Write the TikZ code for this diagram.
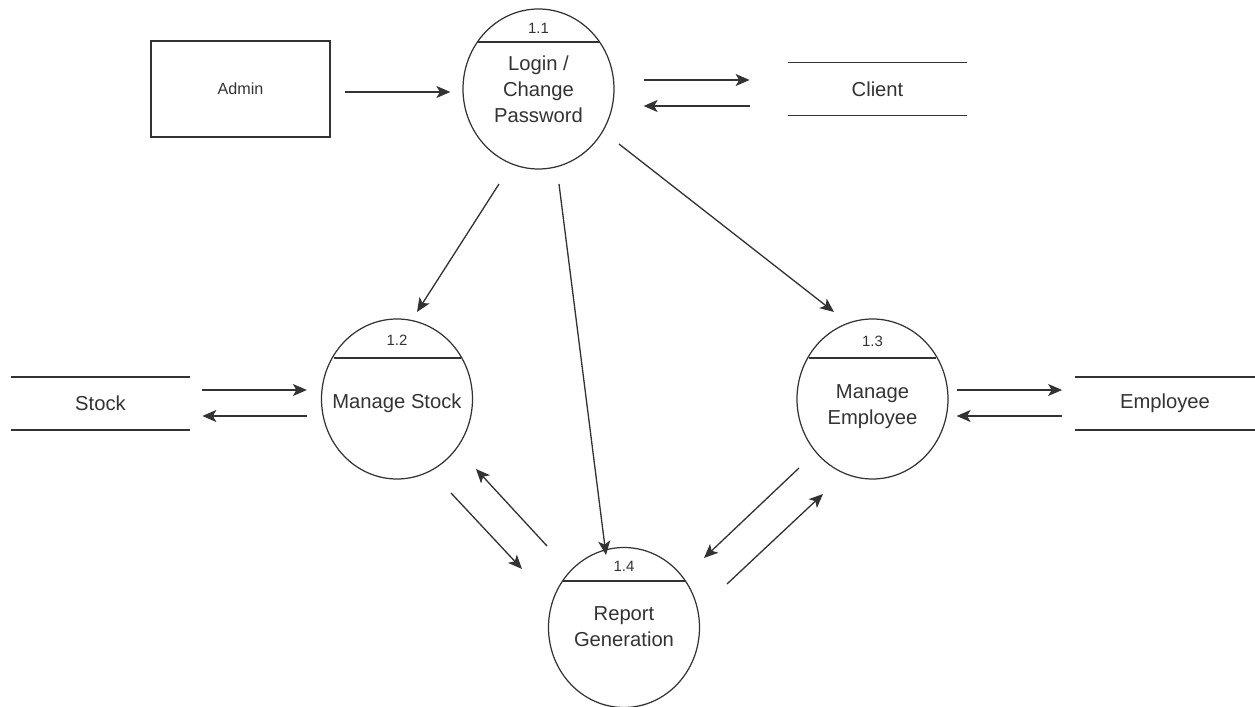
\documentclass[tikz,border=0pt]{standalone}
\usepackage{fontspec}
\setsansfont{Liberation Sans}
\usetikzlibrary{arrows.meta,positioning,calc,shapes.geometric}
\definecolor{inkgray}{HTML}{333333}

\begin{document}
\begin{tikzpicture}[
    font=\sffamily\fontsize{11.5}{14.8}\selectfont, text=inkgray,
    proc/.style={draw=inkgray,line width=0.7pt,ellipse,minimum width=3.02cm,minimum height=3.2cm,inner sep=0pt},
    ptext/.style={align=center,inner sep=0pt},
    entity/.style={draw=inkgray,line width=0.7pt,minimum width=3.58cm,minimum height=1.92cm,font=\sffamily\fontsize{9.2}{11}\selectfont},
    store/.style={minimum width=3.58cm,minimum height=1.05cm},
    num/.style={font=\sffamily\fontsize{8.5}{10}\selectfont,inner sep=0pt},
    rule/.style={draw=inkgray,line width=0.7pt},
    arrow/.style={-{Stealth[length=2.8mm,width=2.4mm,inset=0.7mm]},line width=0.75pt,draw=inkgray}
  ]
    \useasboundingbox (0,0) rectangle (25.1,14.14);

    % processes
    \node[proc] (p11) at (10.77,12.36) {};
    \node[proc] (p12) at (7.94,6.16) {};
    \node[proc] (p13) at (17.45,6.16) {};
    \node[proc] (p14) at (12.48,1.59) {};

    \node[ptext] (t11) at (p11) {Login /\\Change\\Password};
    \node[ptext] (t12) at ($(p12)+(0,-0.08)$) {Manage Stock};
    \node[ptext] (t13) at ($(p13)+(0,-0.16)$) {Manage\\Employee};
    \node[ptext] (t14) at ($(p14)+(0,0.02)$) {Report\\Generation};

    \node[num] (n11) at ($(p11)+(0,1.22)$) {1.1};
    \node[num] (n12) at ($(p12)+(0,1.18)$) {1.2};
    \node[num] (n13) at ($(p13)+(0,1.16)$) {1.3};
    \node[num] (n14) at ($(p14)+(0,1.22)$) {1.4};

    \draw[rule] ($(p11)+(-1.23,0.94)$) -- ($(p11)+(1.23,0.94)$);
    \draw[rule] ($(p12)+(-1.27,0.82)$) -- ($(p12)+(1.27,0.82)$);
    \draw[rule] ($(p13)+(-1.27,0.82)$) -- ($(p13)+(1.27,0.82)$);
    \draw[rule] ($(p14)+(-1.23,0.93)$) -- ($(p14)+(1.23,0.93)$);

    % entity and stores
    \node[entity] (adm) at (4.81,12.36) {Admin};
    \node[store] (cli) at (17.55,12.36) {Client};
    \node[store] (stk) at (2.01,6.07) {Stock};
    \node[store] (emp) at (23.3,6.07) {Employee};
    \draw[rule] (cli.north west) -- (cli.north east) (cli.south west) -- (cli.south east);
    \draw[rule] (stk.north west) -- (stk.north east) (stk.south west) -- (stk.south east);
    \draw[rule] (emp.north west) -- (emp.north east) (emp.south west) -- (emp.south east);

    % flows
    \draw[arrow,shorten <=0.28cm,shorten >=0.24cm] ([yshift=-0.06cm]adm.east) -- ([yshift=-0.06cm]p11.west);
    \draw[arrow,shorten <=0.58cm,shorten >=0.76cm] ([yshift=0.18cm]p11.east) -- ([yshift=0.18cm]p11.east -| cli.west);
    \draw[arrow,shorten <=0.76cm,shorten >=0.58cm] ([yshift=-0.34cm]p11.east -| cli.west) -- ([yshift=-0.34cm]p11.east);
    \draw[arrow,shorten <=0.24cm,shorten >=0.28cm] ([yshift=0.18cm]stk.east |- p12.west) -- ([yshift=0.18cm]p12.west);
    \draw[arrow,shorten <=0.28cm,shorten >=0.24cm] ([yshift=-0.34cm]p12.west) -- ([yshift=-0.34cm]stk.east |- p12.west);
    \draw[arrow,shorten <=0.16cm,shorten >=0.26cm] ([yshift=0.18cm]p13.east) -- ([yshift=0.18cm]emp.west |- p13.east);
    \draw[arrow,shorten <=0.26cm,shorten >=0.16cm] ([yshift=-0.34cm]emp.west |- p13.east) -- ([yshift=-0.34cm]p13.east);

    \draw[arrow] ($(p11)+(-0.79,-1.90)$) -- ($(p12)+(0.40,1.74)$);
    \draw[arrow] ($(p11)+(0.41,-1.90)$) -- ($(p14)+(-0.36,1.45)$);
    \draw[arrow] ($(p11)+(1.61,-1.10)$) -- ($(p13)+(-0.77,1.74)$);
    \draw[arrow] ($(p12)+(1.08,-1.88)$) -- ($(p14)+(-2.04,1.17)$);
    \draw[arrow] ($(p14)+(-1.54,1.63)$) -- ($(p12)+(1.58,-1.40)$);
    \draw[arrow] ($(p13)+(-1.47,-1.38)$) -- ($(p14)+(1.60,1.39)$);
    \draw[arrow] ($(p14)+(2.06,0.87)$) -- ($(p13)+(-0.99,-1.90)$);
  \end{tikzpicture}
\end{document}
